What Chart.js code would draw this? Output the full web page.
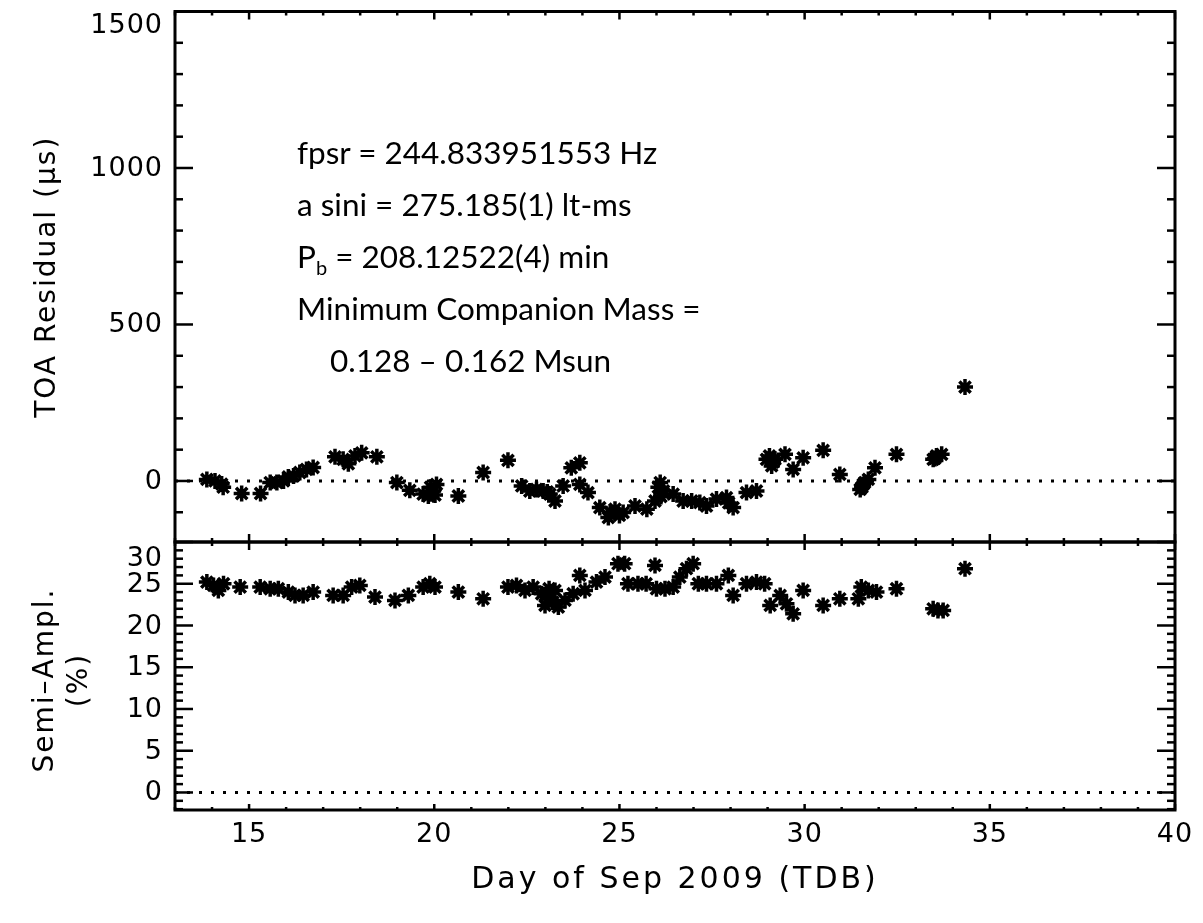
<!DOCTYPE html>
<html>
<head>
<meta charset="utf-8">
<script src="https://cdn.jsdelivr.net/npm/chart.js@4.4.1/dist/chart.umd.min.js"></script>
<style>
html,body{margin:0;padding:0;background:#fff;}
#wrap{position:relative;width:1203px;height:923px;overflow:hidden;background:#fff;}
#wrap canvas{position:absolute;left:0;top:0;}
#note{position:absolute;left:297px;top:126px;font-family:Lato,"Open Sans","Noto Sans",sans-serif;font-size:31.5px;line-height:52px;color:#000;white-space:nowrap;}
#note sub{font-size:20px;line-height:0;vertical-align:-7px;}
</style>
</head>
<body>
<div id="wrap">
<canvas id="cTop" width="1203" height="923"></canvas>
<canvas id="cBot" width="1203" height="923"></canvas>
<div id="note">
<div>fpsr = 244.833951553 Hz</div>
<div>a sini = 275.185(1) lt-ms</div>
<div>P<sub>b</sub> = 208.12522(4) min</div>
<div>Minimum Companion Mass =</div>
<div style="padding-left:33px">0.128 – 0.162 Msun</div>
</div>
</div>
<script>
// ---- data ----
const toaDays  = [13.86,14.08,14.26,14.30,14.80,15.31,15.57,15.75,15.93,16.06,16.20,16.37,16.55,16.73,17.32,17.54,17.68,17.86,18.04,18.45,18.99,19.34,19.70,19.84,19.90,19.97,20.02,20.06,20.65,21.32,21.99,22.36,22.58,22.76,22.94,23.05,23.12,23.26,23.48,23.70,23.93,23.93,24.15,24.47,24.70,24.75,24.88,25.00,25.10,25.42,25.74,25.96,26.05,26.10,26.12,26.19,26.45,26.72,26.95,27.17,27.35,27.62,27.89,27.95,28.07,28.43,28.70,28.97,29.05,29.11,29.15,29.20,29.47,29.69,29.96,30.50,30.95,31.50,31.55,31.58,31.62,31.72,31.90,32.48,33.47,33.52,33.56,33.70,34.33];
const toaResid = [5,0,-10,-20,-40,-40,-5,-5,0,13,16,27,37,43,77,69,55,80,90,77,-5,-30,-42,-48,-20,-32,-45,-11,-48,27,66,-16,-32,-27,-32,-35,-42,-64,-16,42,58,-11,-37,-85,-117,-100,-90,-110,-101,-80,-90,-64,-20,-5,-50,-32,-42,-64,-64,-69,-80,-58,-53,-70,-85,-37,-32,69,80,48,60,69,85,37,74,98,21,-27,-20,-11,-5,5,42,85,69,72,80,85,300];

const ampDays = [13.86,14.04,14.17,14.31,14.76,15.30,15.57,15.79,16.06,16.24,16.46,16.73,17.27,17.54,17.77,17.99,18.40,18.94,19.30,19.70,19.88,20.02,20.65,21.32,21.99,22.22,22.45,22.67,22.90,22.99,23.00,23.10,23.12,23.20,23.26,23.35,23.53,23.75,23.93,24.07,24.38,24.61,24.96,25.14,25.23,25.50,25.72,25.96,26.00,26.23,26.45,26.63,26.81,26.99,27.13,27.35,27.62,27.94,28.07,28.43,28.70,28.92,29.07,29.34,29.51,29.69,29.96,30.50,30.95,31.45,31.53,31.72,31.94,32.48,33.47,33.60,33.74,34.33];
const ampPct  = [25.2,24.8,24.2,25.0,24.6,24.6,24.4,24.4,24.0,23.6,23.6,24.0,23.6,23.6,24.6,24.8,23.4,23.0,23.6,24.6,25.0,24.6,24.0,23.2,24.6,24.8,24.2,24.6,23.8,22.4,23.6,24.4,23.2,22.8,24.2,22.2,23.0,23.8,26.0,24.2,25.2,25.8,27.4,27.4,25.0,25.0,25.0,27.2,24.4,24.4,24.6,25.8,26.8,27.4,25.0,25.0,25.0,26.0,23.6,25.0,25.2,25.0,22.4,23.6,22.6,21.4,24.2,22.4,23.2,23.2,24.6,24.2,24.0,24.4,22.0,21.8,21.8,26.8];

const xRange   = [13, 40];
const toaRange = [-195, 1500];
const ampRange = [-2.1, 30];
const xTickLabels   = [15, 20, 25, 30, 35, 40];
const toaTickLabels = [0, 500, 1000, 1500];
const ampTickLabels = [0, 5, 10, 15, 20, 25, 30];

const xTitle   = 'Day of Sep 2009 (TDB)';
const toaTitle = ['TOA Residual (\u03bcs)'];
const ampTitle = ['Semi\u2013Ampl.', '(%)'];

// ---- IDL-style frame: box, inward ticks, labels, titles ----
const framePlugin = {
  id: 'idlFrame',
  afterDraw(chart, args, o) {
    const ctx = chart.ctx, a = chart.chartArea, xs = chart.scales.x, ys = chart.scales.y;
    ctx.save();
    ctx.strokeStyle = '#000';
    ctx.fillStyle = '#000';
    const seg = (x1, y1, x2, y2) => { ctx.beginPath(); ctx.moveTo(x1, y1); ctx.lineTo(x2, y2); ctx.stroke(); };
    // x ticks (every day, major every 5)
    ctx.lineWidth = 2.5;
    for (let v = Math.ceil(xs.min); v <= xs.max; v++) {
      const px = xs.getPixelForValue(v);
      const major = v % 5 === 0;
      seg(px, a.bottom, px, a.bottom - (major ? o.xMajB : o.xMinB));
      seg(px, a.top, px, a.top + (major ? o.xMajT : o.xMinT));
    }
    // y ticks
    const n0 = Math.ceil(ys.min / o.yMinor - 1e-9), n1 = Math.floor(ys.max / o.yMinor + 1e-9);
    for (let k = n0; k <= n1; k++) {
      const v = k * o.yMinor;
      const py = ys.getPixelForValue(v);
      const major = Math.abs(v / o.yMajor - Math.round(v / o.yMajor)) < 1e-9;
      const len = major ? o.yMaj : o.yMin;
      seg(a.left, py, a.left + len, py);
      seg(a.right, py, a.right - len, py);
    }
    // box
    ctx.lineWidth = 3;
    ctx.strokeRect(a.left, a.top, a.right - a.left, a.bottom - a.top);
    // y tick labels
    ctx.font = o.tickFont;
    ctx.letterSpacing = '1px';
    ctx.textAlign = 'right';
    ctx.textBaseline = 'middle';
    o.yLabels.forEach(v => {
      let py = ys.getPixelForValue(v);
      py = Math.max(a.top + o.labelHalf, Math.min(a.bottom - o.labelHalf, py));
      ctx.fillText(String(v), a.left - 12, py + 1);
    });
    // x tick labels
    if (o.xLabels) {
      ctx.textAlign = 'center';
      o.xLabels.forEach(v => {
        ctx.fillText(String(v), xs.getPixelForValue(v), o.xLabelY);
      });
    }
    // titles
    ctx.font = o.titleFont;
    ctx.letterSpacing = '2px';
    ctx.textAlign = 'center';
    ctx.textBaseline = 'middle';
    const cy = (a.top + a.bottom) / 2;
    o.yTitle.forEach((t, i) => {
      ctx.save();
      ctx.translate(o.yTitleX + i * o.yTitleGap, cy + o.yTitleDy);
      ctx.rotate(-Math.PI / 2);
      ctx.fillText(t, 0, 0);
      ctx.restore();
    });
    if (o.xTitle) {
      ctx.font = o.xTitleFont;
      ctx.letterSpacing = '3px';
      ctx.fillText(o.xTitle, (a.left + a.right) / 2, o.xTitleY);
    }
    ctx.restore();
  }
};

const starSet = (xs, ys) => ({
  type: 'scatter',
  data: xs.map((d, i) => ({x: d, y: ys[i]})),
  pointStyle: 'star', pointRadius: 8, pointBorderWidth: 3.5,
  borderColor: '#000', backgroundColor: '#000', showLine: false
});
const zeroSet = () => ({
  type: 'line',
  data: xRange.map(d => ({x: d, y: 0})),
  borderColor: '#000', borderWidth: 3, borderDash: [3, 9],
  pointRadius: 0, fill: false
});

const common = (padding, yr, frame) => ({
  responsive: false, animation: false, devicePixelRatio: 1,
  layout: {padding},
  plugins: {legend: {display: false}, tooltip: {enabled: false}, idlFrame: frame},
  scales: {
    x: {type: 'linear', min: xRange[0], max: xRange[1], display: false},
    y: {type: 'linear', min: yr[0], max: yr[1], display: false}
  }
});

const TICKFONT = '27px "DejaVu Sans", sans-serif';
const TITLEFONT = '28px "DejaVu Sans", sans-serif';
const XTITLEFONT = '30px "DejaVu Sans", sans-serif';

new Chart(document.getElementById('cTop'), {
  type: 'scatter',
  data: {datasets: [zeroSet(), starSet(toaDays, toaResid)]},
  options: common({left: 175, right: 28, top: 10, bottom: 923 - 542}, toaRange, {
    xMajB: 8, xMinB: 4, xMajT: 8, xMinT: 4, yMaj: 18, yMin: 8,
    yMinor: 100, yMajor: 500, yLabels: toaTickLabels, labelHalf: 13,
    tickFont: TICKFONT, titleFont: TITLEFONT,
    yTitle: toaTitle, yTitleX: 48, yTitleGap: 0, yTitleDy: 0
  }),
  plugins: [framePlugin]
});

new Chart(document.getElementById('cBot'), {
  type: 'scatter',
  data: {datasets: [zeroSet(), starSet(ampDays, ampPct)]},
  options: common({left: 175, right: 28, top: 542, bottom: 923 - 810}, ampRange, {
    xMajB: 6, xMinB: 3, xMajT: 8, xMinT: 4, yMaj: 18, yMin: 8,
    yMinor: 1, yMajor: 5, yLabels: ampTickLabels, labelHalf: 16,
    xLabels: xTickLabels, xLabelY: 835, xTitle: xTitle, xTitleY: 880, xTitleFont: XTITLEFONT,
    tickFont: TICKFONT, titleFont: TITLEFONT,
    yTitle: ampTitle, yTitleX: 46, yTitleGap: 34, yTitleDy: 4
  }),
  plugins: [framePlugin]
});
</script>
</body>
</html>
